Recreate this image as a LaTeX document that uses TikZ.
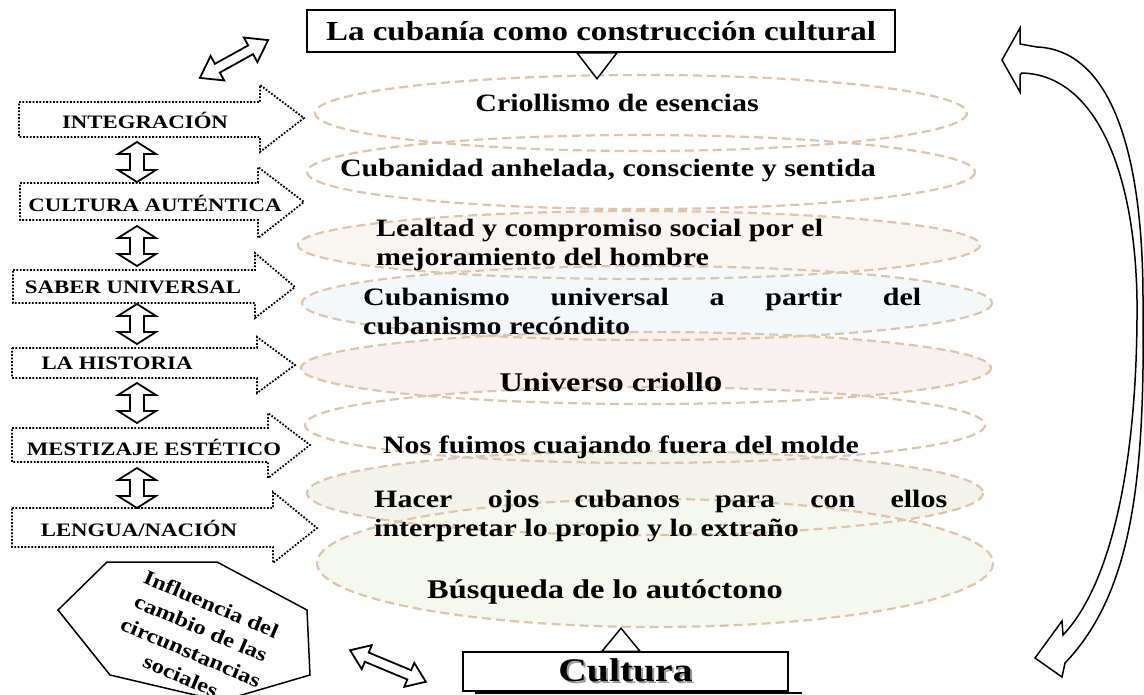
\documentclass[tikz,border=0pt]{standalone}
\usepackage{fontspec}
\setmainfont{Liberation Serif}[FakeStretch=1.2]
\usetikzlibrary{positioning}

\definecolor{borde}{RGB}{222,196,170}
\definecolor{capaC}{RGB}{249,246,241}
\definecolor{capaD}{RGB}{243,248,251}
\definecolor{capaE}{RGB}{248,241,239}
\definecolor{capaG}{RGB}{243,243,235}
\definecolor{capaH}{RGB}{245,248,239}

\tikzset{
  contorno/.style={draw=black, line width=1.5pt, line join=miter, fill=white},
  punteada/.style={draw=black, line width=1.8pt, dash pattern=on 1.8pt off 1.6pt},
  rayada/.style={draw=borde, line width=2.2pt, dash pattern=on 9pt off 5pt},
  caja/.style={draw=black, line width=1.5pt, fill=white, inner sep=0pt},
  texto/.style={font=\fontsize{25}{29}\selectfont\bfseries, inner sep=0pt},
  etiqueta/.style={font=\fontsize{19}{22}\selectfont\bfseries, inner sep=0pt},
  pics/dflecha/.style args={#1/#2/#3/#4}{code={
    \draw[contorno, line width=1.8pt] (-#1,0) -- (-#1+#2,#3) -- (-#1+#2,#4) -- (#1-#2,#4) -- (#1-#2,#3)
      -- (#1,0) -- (#1-#2,-#3) -- (#1-#2,-#4) -- (-#1+#2,-#4) -- (-#1+#2,-#3) -- cycle;
  }}
}

\begin{document}
\begin{tikzpicture}[x=1pt, y=-1pt]
    \useasboundingbox (0,0) rectangle (1144,694);

    %capas
    \foreach \cx/\cy/\rx/\ry/\col in {641/113/326/38/white, 641/172/334/37/white, 639/245/341/34/capaC, 647/303/345/37/capaD, 646/368/345/36/capaE, 645/425/340/38/white, 645/493/338/42/capaG, 655/563/338/64/capaH}
        \fill[\col] (\cx,\cy) ellipse [x radius=\rx, y radius=\ry];
    \foreach \cx/\cy/\rx/\ry in {641/113/326/38, 641/172/334/37, 639/245/341/34, 647/303/345/37, 646/368/345/36, 645/425/340/38, 645/493/338/42, 655/563/338/64}
        \draw[rayada] (\cx,\cy) ellipse [x radius=\rx, y radius=\ry];

    %titulo
    \node[caja, minimum width=588pt, minimum height=42pt, font=\fontsize{27.5}{30}\selectfont\bfseries] (titulo) at (601,31) {La cubanía como construcción cultural};
    \draw[contorno, shift={(titulo.south)}] (-24,0) -- (-4,26) -- (16,0) -- cycle;

    %textos de las capas
    \node[texto] (criollismo) at (617,103) {Criollismo de esencias};
    \node[texto] (cubanidad) at (608,171) {Cubanidad anhelada, consciente y sentida};
    \node[texto, anchor=west, align=left] (lealtad) at (376,245) {Lealtad y compromiso social por el\\mejoramiento del hombre};
    \node[texto, anchor=west, text width=558pt, align=justify] (cubanismo) at (363,311) {Cubanismo universal a partir del\linebreak cubanismo recóndito};
    \node[texto, font=\fontsize{27}{30}\selectfont\bfseries] (universo) at (611,382) {Universo crioll{\fontsize{31}{30}\selectfont o}};
    \node[texto] (fuimos) at (621,447) {Nos fuimos cuajando fuera del molde};
    \node[texto, anchor=west, text width=573pt, align=justify] (ojos) at (374,516) {Hacer ojos cubanos para con ellos\linebreak interpretar lo propio y lo extraño};
    \node[texto, font=\fontsize{27}{30}\selectfont\bfseries] (busqueda) at (605,592) {Búsqueda de lo autóctono};

    %flechas punteadas
    \draw[punteada] (19,102) -- (260,102) -- (260,85) -- (304,118) -- (260,152) -- (260,137) -- (19,137) -- cycle;
    \node[etiqueta] (integracion) at (145,120) {INTEGRACIÓN};
    \draw[punteada] (20,183) -- (258,183) -- (258,167) -- (304,202) -- (258,238) -- (258,220) -- (20,220) -- cycle;
    \node[etiqueta] (autentica) at (155,203) {CULTURA AUTÉNTICA};
    \draw[punteada] (13,270) -- (255,270) -- (255,253) -- (295,287) -- (255,318) -- (255,303) -- (13,303) -- cycle;
    \node[etiqueta] (saber) at (133,287) {SABER UNIVERSAL};
    \draw[punteada] (12,348) -- (257,348) -- (257,337) -- (295,365) -- (257,393) -- (257,378) -- (12,378) -- cycle;
    \node[etiqueta] (historia) at (117,363) {LA HISTORIA};
    \draw[punteada] (12,428) -- (268,428) -- (268,413) -- (310,445) -- (268,478) -- (268,462) -- (12,462) -- cycle;
    \node[etiqueta] (mestizaje) at (154,447) {MESTIZAJE ESTÉTICO};
    \draw[punteada] (12,508) -- (273,508) -- (273,492) -- (317,528) -- (273,563) -- (273,547) -- (12,547) -- cycle;
    \node[etiqueta] (lengua) at (139,528) {LENGUA/NACIÓN};

    %flechas dobles
    \foreach \y in {162,246,324,403,488}
        \pic[rotate=90] at (137,\y) {dflecha=20/12/19/7};
    \pic[rotate=29] at (234,59) {dflecha=39/20/14/5};
    \pic[rotate=-22.6] at (388,666) {dflecha=41/18/13/5};

    %octagono
    \draw[contorno] (107,562) -- (217,562) -- (307,610) -- (310,675) -- (228,699) -- (212,699) -- (110,675) -- (58,610) -- cycle;
    \node[rotate=-23, align=center, inner sep=0pt, font=\fontsize{20.5}{26}\selectfont\bfseries] (influencia) at (196,640) {Influencia del\\cambio de las\\circunstancias\\sociales};

    %cultura
    \draw[line width=2pt] (475,693) -- (802,693);
    \node[caja, minimum width=325pt, minimum height=39pt, font=\fontsize{33}{36}\selectfont\bfseries] (cultura) at (625.5,671.5) {\rlap{\hspace{2pt}\raisebox{-2pt}{\color{black!40}Cultura}}Cultura};
    \draw[contorno, shift={(cultura.north)}] (-23.5,0) -- (-4.5,-23) -- (14.5,0) -- cycle;

    %flecha curva
    \draw[contorno] (1002,60) -- (1020,28) -- (1020,44) -- (1037,47)
        .. controls (1110,50) and (1143,150) .. (1143,300)
        .. controls (1145,470) and (1135,590) .. (1065,663)
        -- (1062,677) -- (1035,658) -- (1062,621) -- (1063,635)
        .. controls (1115,580) and (1138,450) .. (1137,300)
        .. controls (1135,170) and (1095,75) .. (1022,73)
        -- (1020,75) -- (1020,92) -- cycle;
\end{tikzpicture}
\end{document}
